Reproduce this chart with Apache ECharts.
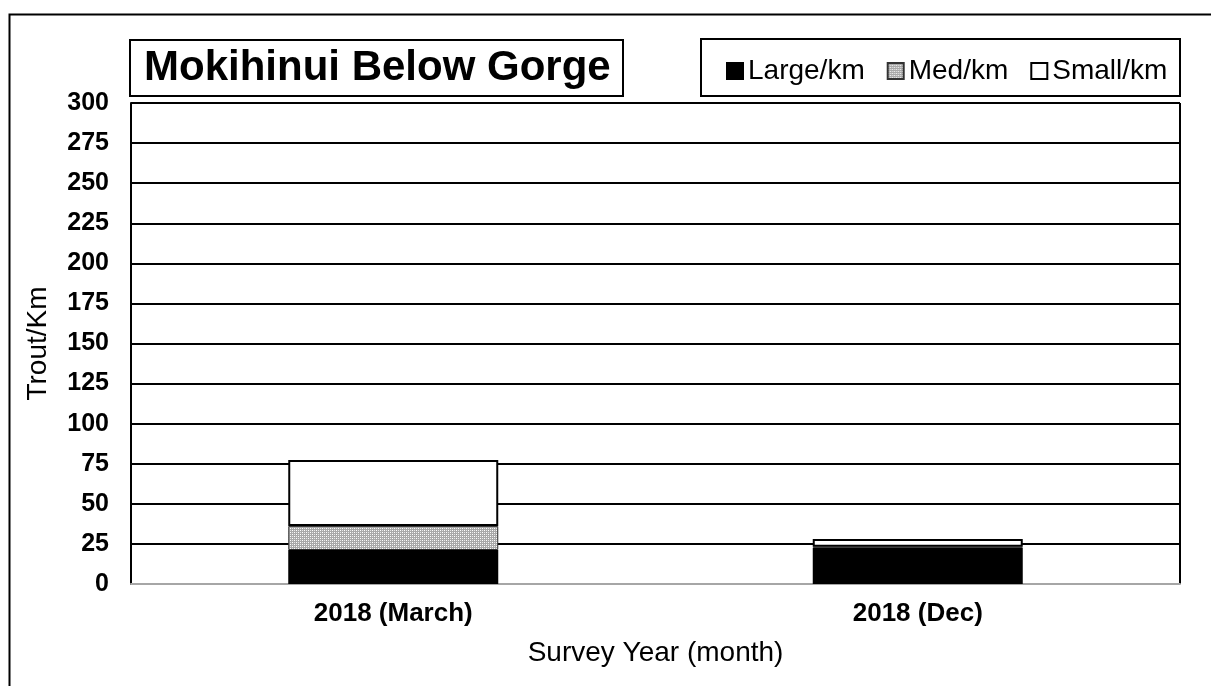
<!DOCTYPE html>
<html lang="en">
<head>
	<meta charset="UTF-8">
	<title>Mokihinui Below Gorge</title>
	<script src="https://cdn.jsdelivr.net/npm/echarts@6/dist/echarts.min.js"></script>
	<style>
		html, body { margin: 0; padding: 0; background: #fff; }
		#chart { width: 1211px; height: 686px; }
	</style>
</head>
<body>
<div id="chart"></div>
<script>
	// data
	var categories = ['2018 (March)', '2018 (Dec)'];
	var largeKm = [21.2, 22.6];
	var medKm = [15.0, 0.7];
	var smallKm = [41.2, 4.8];

	var font = '"Liberation Sans", Arial, sans-serif';

	// dotted grey fill for the Med/km segment
	function makeDots() {
		var c = document.createElement('canvas');
		c.width = 4; c.height = 4;
		var ctx = c.getContext('2d');
		ctx.fillStyle = '#a8a8a8';
		ctx.fillRect(0, 0, 4, 4);
		ctx.fillStyle = '#e6e6e6';
		ctx.fillRect(0, 0, 1, 1);
		ctx.fillRect(2, 2, 1, 1);
		ctx.fillStyle = '#ffffff';
		ctx.fillRect(2, 0, 1, 1);
		ctx.fillRect(0, 2, 1, 1);
		return c;
	}
	var dots = { image: makeDots(), repeat: 'repeat' };

	var chart = echarts.init(document.getElementById('chart'));
	chart.setOption({
		animation: false,
		grid: { left: 131, right: 31, top: 103, bottom: 102 },
		legend: {
			left: 721, top: 52,
			itemWidth: 16, itemHeight: 16, itemGap: 22,
			icon: 'rect',
			textStyle: { fontFamily: font, fontSize: 28, color: '#000' },
			data: ['Large/km', 'Med/km', 'Small/km']
		},
		xAxis: {
			type: 'category',
			data: categories,
			axisLine: { lineStyle: { color: '#a6a6a6', width: 2 } },
			axisTick: { show: false },
			axisLabel: { fontFamily: font, fontSize: 26, fontWeight: 'bold', color: '#000', margin: 17 },
			name: 'Survey Year (month)',
			nameLocation: 'middle',
			nameGap: 55,
			nameTextStyle: { fontFamily: font, fontSize: 28, color: '#000' }
		},
		yAxis: {
			type: 'value',
			min: 0, max: 300, interval: 25,
			axisLine: { show: true, lineStyle: { color: '#000', width: 2 } },
			axisTick: { show: false },
			splitLine: { lineStyle: { color: '#000', width: 2 } },
			axisLabel: { fontFamily: font, fontSize: 25, fontWeight: 'bold', color: '#000', margin: 22 },
			name: 'Trout/Km',
			nameLocation: 'middle',
			nameGap: 79,
			nameTextStyle: { fontFamily: font, fontSize: 28, color: '#000' }
		},
		series: [
			{
				name: 'Large/km', type: 'bar', stack: 'trout', barWidth: 210,
				data: largeKm,
				itemStyle: { color: '#000', borderColor: '#000', borderWidth: 1.5 }
			},
			{
				name: 'Med/km', type: 'bar', stack: 'trout', barWidth: 210,
				data: medKm,
				itemStyle: { color: dots, borderColor: '#333', borderWidth: 1 }
			},
			{
				name: 'Small/km', type: 'bar', stack: 'trout', barWidth: 210,
				data: smallKm,
				itemStyle: { color: '#fff', borderColor: '#000', borderWidth: 2 }
			}
		],
		graphic: [
			// outer frame
			{ type: 'rect', left: 7, top: 12, shape: { width: 1220, height: 700 },
				style: { fill: 'none', stroke: '#000', lineWidth: 2 }, silent: true, z: -1 },
			// right edge of plot
			{ type: 'line', shape: { x1: 1180, y1: 103, x2: 1180, y2: 584 },
				style: { stroke: '#000', lineWidth: 2 }, silent: true },
			// title box
			{ type: 'rect', shape: { x: 130, y: 40, width: 493, height: 56 },
				style: { fill: '#fff', stroke: '#000', lineWidth: 2 } },
			{ type: 'text', left: 144, top: 47,
				style: { text: 'Mokihinui Below Gorge', fontFamily: font, fontSize: 42, fontWeight: 'bold', fill: '#000' } },
			// legend box
			{ type: 'rect', shape: { x: 701, y: 39, width: 479, height: 57 },
				style: { fill: 'none', stroke: '#000', lineWidth: 2 }, z: 100 }
		]
	});
</script>
</body>
</html>
